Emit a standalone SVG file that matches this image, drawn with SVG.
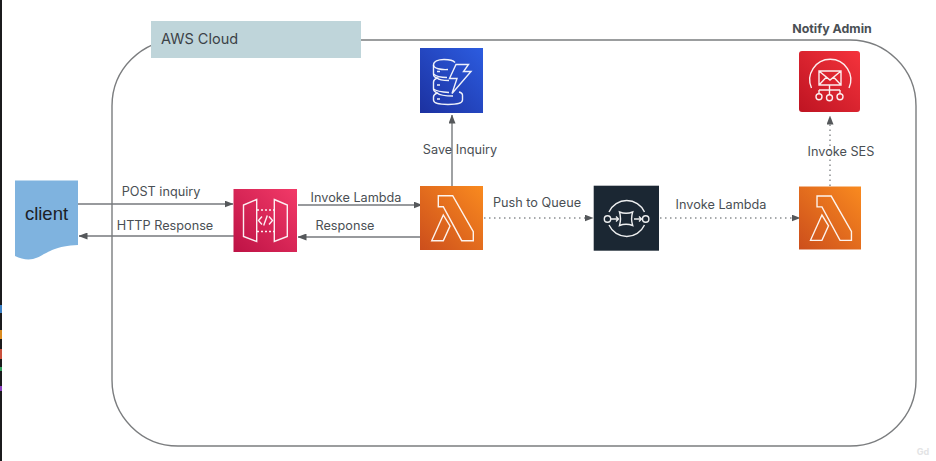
<svg xmlns="http://www.w3.org/2000/svg" width="936" height="461" viewBox="0 0 936 461">
<style>
text{font-family:"Inter","Open Sans","Liberation Sans",sans-serif;fill:#4a4f54;font-size:12.700px}
.m{text-anchor:middle}
.c{fill:none;stroke:#76797c;stroke-width:1.4}
.d{fill:none;stroke:#8b8e91;stroke-width:1.5;stroke-dasharray:1.5 3.5}
.i{fill:none;stroke:#fff;stroke-width:1.4;stroke-linejoin:miter;stroke-opacity:.92}
</style>
<defs>
<marker id="a" markerWidth="9" markerHeight="7" refX="8.500" refY="3.500" orient="auto" markerUnits="userSpaceOnUse"><path d="M0 0L9 3.500L0 7Z" fill="#55585b"/></marker>
<linearGradient id="gr" x1="0" y1="1" x2="1" y2="0"><stop offset="0" stop-color="#bd1245"/><stop offset="1" stop-color="#f23a68"/></linearGradient>
<linearGradient id="go" x1="0" y1="1" x2="1" y2="0"><stop offset="0" stop-color="#cc4e1c"/><stop offset="1" stop-color="#f98a1f"/></linearGradient>
<linearGradient id="gb" x1="0" y1="1" x2="1" y2="0"><stop offset="0" stop-color="#1c31a0"/><stop offset="1" stop-color="#2c5ce0"/></linearGradient>
<linearGradient id="gs" x1="0" y1="1" x2="1" y2="0"><stop offset="0" stop-color="#be1422"/><stop offset="1" stop-color="#f5333c"/></linearGradient>
<symbol id="lam" viewBox="0 0 63 64" overflow="visible"><rect width="63" height="64" fill="url(#go)"/><path class="i" d="M18.300 9.700H32.700L53.300 45.700V54.700H41.700L23.300 20.700H18.300ZM23.300 29L11.700 54.700H23.300L30 40Z"/></symbol>
</defs>
<rect width="936" height="461" fill="#fff"/>
<rect x="0" y="0" width="2" height="461" fill="#1b1b1d"/>
<rect x="0" y="305" width="2" height="8" fill="#3b7fc4"/><rect x="0" y="330" width="2" height="9" fill="#d98a1f"/><rect x="0" y="349" width="2" height="10" fill="#c9503c"/><rect x="0" y="367" width="2" height="4" fill="#2f9e5b"/><rect x="0" y="386" width="2" height="5" fill="#8a3fc0"/>

<g id="cloud"><rect x="112" y="40" width="804" height="406" rx="66" ry="66" fill="none" stroke="#7b7d7f" stroke-width="1.4"/>
<rect x="151" y="21" width="210" height="37" fill="#bfd5da"/><text x="161" y="44" style="font-size:14.500px;fill:#3c4247">AWS Cloud</text></g>
<text id="notify" x="832" y="33" class="m" style="font-weight:700;font-size:12.400px">Notify Admin</text>

<g id="connectors">
<path class="c" marker-end="url(#a)" d="M78 204H233"/>
<path class="c" marker-end="url(#a)" d="M234 236H79"/>
<path class="c" marker-end="url(#a)" d="M298 205H422"/>
<path class="c" marker-end="url(#a)" d="M420 237H298"/>
<path class="c" marker-end="url(#a)" d="M452 186V115"/>
<path class="d" marker-end="url(#a)" d="M484 218H593"/>
<path class="d" marker-end="url(#a)" d="M660 218H800"/>
<path class="d" marker-end="url(#a)" d="M830 186V116"/>
<text x="161" y="196" class="m">POST inquiry</text>
<text x="165" y="230" class="m">HTTP Response</text>
<text x="356" y="202" class="m">Invoke Lambda</text>
<text x="345" y="230" class="m">Response</text>
<text x="460" y="154" class="m">Save Inquiry</text>
<text x="537" y="207" class="m">Push to Queue</text>
<text x="721" y="209" class="m">Invoke Lambda</text>
<text x="841" y="156" class="m">Invoke SES</text>
</g>

<g id="client"><path d="M15 180.500H78V245C50 246 45 256 33 259C27 260 21 259 15 256Z" fill="#7fb3df"/>
<text x="46.500" y="220" class="m" style="font-family:'Liberation Sans',sans-serif;font-size:18.500px;fill:#1c2126">client</text></g>

<g id="apigw"><rect x="233.500" y="189" width="63.500" height="63" fill="url(#gr)"/>
<path class="i" d="M256.700 199.500L243.500 205V236.500L256.700 241.500ZM274.300 199.500L287.300 205V236.500L274.300 241.500Z"/>
<path class="i" stroke-dasharray="2 2" d="M257 210H274M257 231.500H274"/>
<path class="i" d="M262 216.500L258.500 220.500L262 224.500M269 216.500L272.500 220.500L269 224.500M267.300 215.500L263.700 225.500"/></g>

<g id="dynamodb"><rect x="420" y="48" width="63" height="65" fill="url(#gb)"/>
<g class="i">
<path d="M455 62.500C453 60 449 59.500 444 59.500C438 59.500 433.500 61.500 433.500 65V74C433.500 76 435 77.500 437 78C435 79 433.500 80 433.500 82V89C433.500 91 435 92 437 93C435 94 433.500 95 433.500 97V100C433.500 103 440 104.500 448 104.500C456 104.500 462.500 103 462.500 100V95C462.500 93.500 461 92.500 459 92"/>
<path d="M433.500 65C433.500 68.500 441 70 448 69.500M433.500 74C436 76.500 441 77.500 447 77.500M437 78C439 80 443 80.500 449 80.500M433.500 89C436 91 441 92 449 92.500M437 93C440 95.500 447 96 453 96M437 71.500H440M437 85H440M437 99H440"/>
<path d="M456 64.500H468.500L463.500 71.500H471L452 93.500L457 78.500H449.500Z"/></g></g>

<g id="ses"><rect x="799" y="51" width="61" height="61" rx="3" fill="url(#gs)"/>
<path class="i" d="M811.500 88A20.500 20.500 0 1 1 849 88" stroke-width="1.600"/>
<path class="i" d="M819 71H841V85H819ZM819 71L830 80L841 71M819 85L826.500 77M841 85L833.500 77M829.500 85V94.500M819 90H840M819 90V93.500M840 90V93.500"/>
<circle class="i" cx="819" cy="96.700" r="3"/><circle class="i" cx="829.500" cy="97.700" r="3"/><circle class="i" cx="840" cy="96.700" r="3"/></g>

<g id="lambda1"><use href="#lam" x="420" y="186" width="63" height="64"/></g>

<g id="sqs"><rect x="593.700" y="185.700" width="65.300" height="65" fill="#1b2733"/>
<path class="i" d="M609 212A19.500 19.500 0 0 1 644.500 212M609 225A19.500 19.500 0 0 0 644.500 225"/>
<circle class="i" cx="607.500" cy="219" r="3.200"/><circle class="i" cx="645.700" cy="219" r="3.200"/>
<path class="i" d="M619.500 212Q626 214.500 632.700 212Q630.500 218.500 632.700 225.500Q626 223 619.500 225.500Q621.500 218.500 619.500 212Z"/>
<path class="i" d="M611 219H618.500M616 216.500L618.500 219L616 221.500M634 219H641.500M639 216.500L641.500 219L639 221.500"/></g>

<g id="lambda2"><use href="#lam" x="799" y="186" width="62" height="64"/></g>

<text id="mark" x="923" y="455" class="m" style="font-size:9px;font-weight:700;fill:#e3e4e5">Gd</text>
</svg>
